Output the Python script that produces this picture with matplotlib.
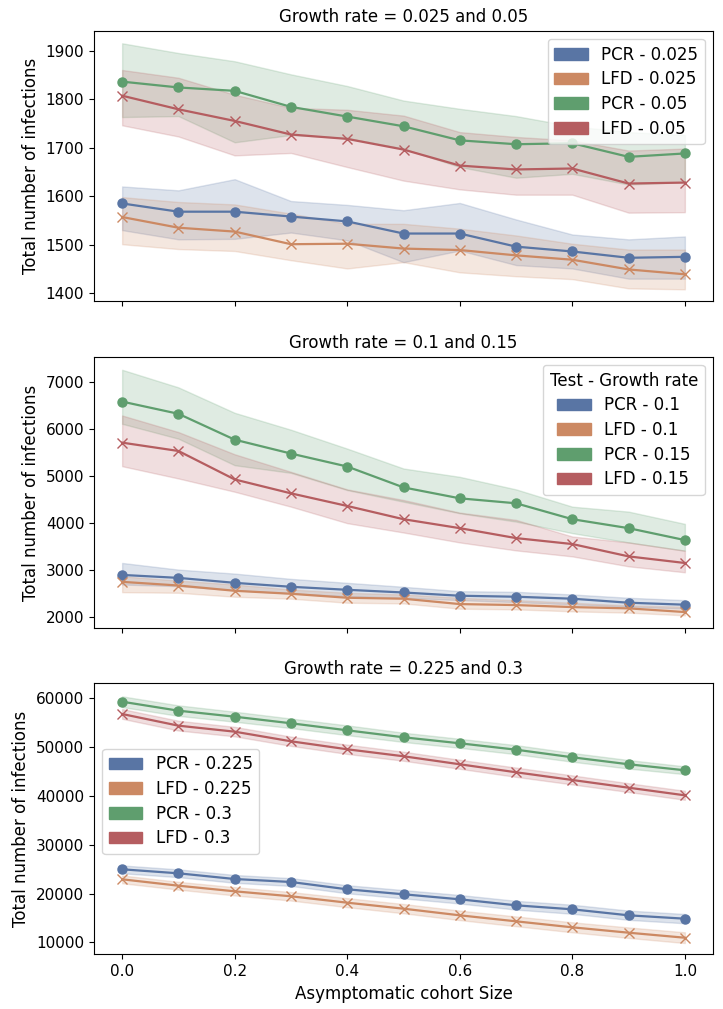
import numpy as np
import pandas as pd
import matplotlib
matplotlib.use("Agg")
import matplotlib.pyplot as plt
import matplotlib.patches as mpatches

plt.rcParams['font.family'] = ['DejaVu Sans']
plt.rcParams['font.size'] = 12
plt.rcParams['xtick.labelsize'] = 11
plt.rcParams['ytick.labelsize'] = 11

cohort = [0.0, 0.1, 0.2, 0.3, 0.4, 0.5, 0.6, 0.7, 0.8, 0.9, 1.0]

# growth rate 0.025 / 0.05
pcr_025_mean = [1585, 1568, 1568, 1558, 1548, 1523, 1523, 1496, 1486, 1473, 1475]
pcr_025_low = [1530, 1511, 1512, 1525, 1509, 1464, 1488, 1458, 1451, 1430, 1430]
pcr_025_high = [1620, 1612, 1635, 1590, 1582, 1571, 1586, 1552, 1521, 1511, 1517]
lfd_025_mean = [1557, 1535, 1527, 1501, 1502, 1492, 1489, 1478, 1469, 1449, 1439]
lfd_025_low = [1501, 1491, 1487, 1468, 1451, 1464, 1443, 1435, 1429, 1410, 1408]
lfd_025_high = [1598, 1588, 1583, 1564, 1543, 1543, 1533, 1519, 1502, 1490, 1490]
pcr_05_mean = [1836, 1824, 1817, 1784, 1764, 1744, 1715, 1707, 1709, 1681, 1688]
pcr_05_low = [1763, 1765, 1711, 1726, 1720, 1698, 1660, 1638, 1646, 1624, 1629]
pcr_05_high = [1915, 1895, 1878, 1851, 1827, 1797, 1780, 1765, 1744, 1732, 1726]
lfd_05_mean = [1807, 1779, 1755, 1727, 1718, 1696, 1663, 1655, 1657, 1626, 1628]
lfd_05_low = [1746, 1723, 1684, 1689, 1660, 1632, 1614, 1603, 1603, 1566, 1567]
lfd_05_high = [1860, 1844, 1809, 1782, 1778, 1766, 1732, 1722, 1715, 1694, 1698]

# growth rate 0.1 / 0.15
pcr_1_mean = [2900, 2837, 2732, 2648, 2584, 2527, 2458, 2437, 2395, 2310, 2268]
pcr_1_low = [2696, 2661, 2576, 2506, 2450, 2415, 2365, 2323, 2274, 2225, 2183]
pcr_1_high = [3154, 3013, 2928, 2816, 2732, 2648, 2555, 2541, 2485, 2415, 2365]
lfd_1_mean = [2753, 2675, 2563, 2500, 2415, 2395, 2281, 2260, 2217, 2190, 2112]
lfd_1_low = [2534, 2521, 2437, 2395, 2310, 2295, 2183, 2169, 2127, 2099, 2042]
lfd_1_high = [2871, 2781, 2696, 2591, 2521, 2485, 2415, 2365, 2310, 2253, 2225]
pcr_15_mean = [6578, 6319, 5770, 5475, 5200, 4757, 4525, 4420, 4082, 3892, 3639]
pcr_15_low = [6107, 5791, 5228, 5066, 4700, 4454, 4208, 4032, 3786, 3589, 3414]
pcr_15_high = [7253, 6880, 6340, 5981, 5580, 5158, 4981, 4715, 4348, 4243, 3983]
lfd_15_mean = [5707, 5530, 4926, 4631, 4363, 4082, 3892, 3681, 3555, 3293, 3153]
lfd_15_low = [5207, 4947, 4665, 4348, 3998, 3800, 3589, 3420, 3293, 3082, 2956]
lfd_15_high = [6283, 5931, 5460, 5087, 4715, 4489, 4222, 4067, 3715, 3589, 3414]

# growth rate 0.225 / 0.3
pcr_225_mean = [24960, 24140, 22970, 22360, 20860, 19840, 18810, 17580, 16760, 15530, 14840]
pcr_225_low = [24150, 23350, 22200, 21550, 20050, 19000, 17950, 16700, 15850, 14600, 13900]
pcr_225_high = [25750, 24950, 23800, 23150, 21700, 20700, 19700, 18500, 17700, 16500, 15800]
lfd_225_mean = [22910, 21600, 20450, 19430, 18120, 16890, 15530, 14300, 13070, 11970, 10940]
lfd_225_low = [22100, 20800, 19600, 18550, 17200, 15950, 14550, 13300, 12050, 10900, 9850]
lfd_225_high = [23700, 22400, 21300, 20300, 19050, 17850, 16500, 15300, 14100, 13050, 12050]
pcr_3_mean = [59300, 57460, 56230, 54880, 53440, 52010, 50780, 49470, 47910, 46480, 45250]
pcr_3_low = [58200, 56400, 55200, 53900, 52450, 51050, 49850, 48550, 47000, 45600, 44450]
pcr_3_high = [60400, 58550, 57250, 55850, 54450, 52950, 51700, 50400, 48800, 47350, 46050]
lfd_3_mean = [56780, 54390, 53160, 51190, 49550, 48120, 46480, 44840, 43260, 41680, 40120]
lfd_3_low = [55800, 53400, 52200, 50250, 48600, 47200, 45550, 43900, 42350, 40800, 39200]
lfd_3_high = [57800, 55400, 54150, 52150, 50500, 49050, 47400, 45800, 44200, 42600, 41050]

titles = ["Growth rate = 0.025 and 0.05", "Growth rate = 0.1 and 0.15", "Growth rate = 0.225 and 0.3"]
rates = [["0.025", "0.05"], ["0.1", "0.15"], ["0.225", "0.3"]]

colors = ['#5975a4', '#cc8963', '#5f9e6e', '#b55d60']

panels = [
    [(pcr_025_mean, pcr_025_low, pcr_025_high), (lfd_025_mean, lfd_025_low, lfd_025_high),
     (pcr_05_mean, pcr_05_low, pcr_05_high), (lfd_05_mean, lfd_05_low, lfd_05_high)],
    [(pcr_1_mean, pcr_1_low, pcr_1_high), (lfd_1_mean, lfd_1_low, lfd_1_high),
     (pcr_15_mean, pcr_15_low, pcr_15_high), (lfd_15_mean, lfd_15_low, lfd_15_high)],
    [(pcr_225_mean, pcr_225_low, pcr_225_high), (lfd_225_mean, lfd_225_low, lfd_225_high),
     (pcr_3_mean, pcr_3_low, pcr_3_high), (lfd_3_mean, lfd_3_low, lfd_3_high)],
]
ylims = [(1384, 1941), (1767, 7531), (7541, 63197)]
positions = [[0.130, 0.7017, 0.8562, 0.2679],
             [0.130, 0.3773, 0.8562, 0.2692],
             [0.130, 0.0542, 0.8562, 0.2692]]

fig = plt.figure(figsize=(7.23, 10.09), dpi=100)
axes = []
for i in range(3):
    if i == 0:
        ax = fig.add_axes(positions[i])
    else:
        ax = fig.add_axes(positions[i], sharex=axes[0])
    axes.append(ax)

for i, ax in enumerate(axes):
    tests = ["PCR", "LFD", "PCR", "LFD"]
    markers = ['o', 'x', 'o', 'x']
    labels = []
    for j, (mean, low, high) in enumerate(panels[i]):
        ax.fill_between(cohort, low, high, color=colors[j], alpha=0.2, linewidth=1)
        ax.plot(cohort, mean, color=colors[j], marker=markers[j], markersize=6.5, linewidth=1.6)
        labels.append(tests[j] + " - " + rates[i][j // 2])
    ax.set_title(titles[i], fontsize=12)
    ax.set_ylabel("Total number of infections")
    ax.set_ylim(ylims[i])
    handles = [mpatches.Patch(color=colors[j], label=labels[j]) for j in range(4)]
    if i == 0:
        ax.legend(handles=handles, loc='upper right', labelspacing=0.4)
    elif i == 1:
        ax.legend(handles=handles, loc='upper right', title="Test - Growth rate", labelspacing=0.4)
    else:
        ax.legend(handles=handles, loc='center left', bbox_to_anchor=(0, 0.5626), labelspacing=0.4)
    if i < 2:
        plt.setp(ax.get_xticklabels(), visible=False)

axes[0].set_xlim(-0.05, 1.05)
axes[2].set_xlabel("Asymptomatic cohort Size")

fig.savefig("out.png", dpi=100)
